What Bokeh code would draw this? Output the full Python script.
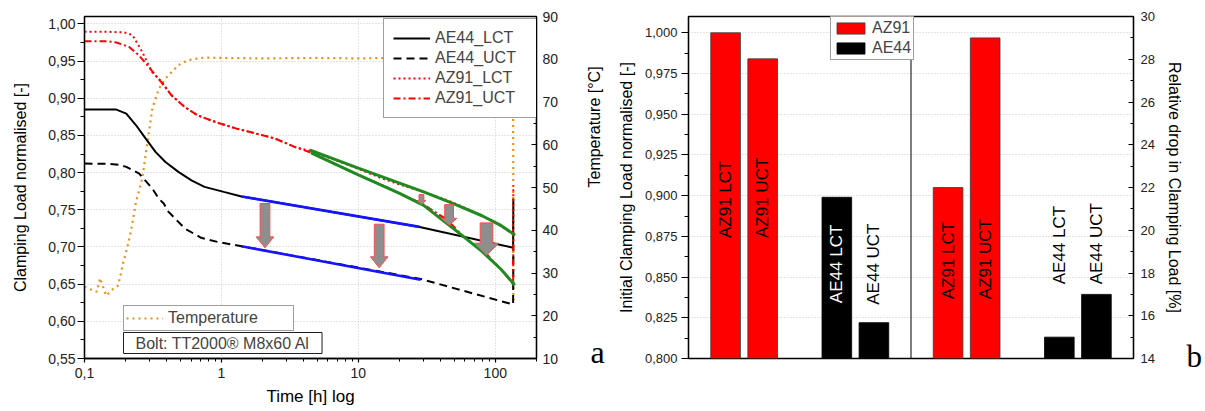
import numpy as np
from bokeh.plotting import figure
from bokeh.models import (Range1d, LinearAxis, Legend, LegendItem, Label, Span,
                          CustomJSTickFormatter, FixedTicker, ColumnDataSource)
from bokeh.layouts import row
from bokeh.embed import file_html
from bokeh.resources import INLINE
from bokeh.core.properties import value

FONT = "Liberation Sans"
SERIF = "Liberation Serif"

# ---------------- chart a : clamping load vs time ----------------
ae44_lct_t = [0.1, 0.15, 0.171, 0.202, 0.238, 0.28, 0.33, 0.39, 0.485, 0.604, 0.752, 1.04, 1.4, 28, 135, 135.5]
ae44_lct_v = [0.885, 0.885, 0.8848, 0.8794, 0.8637, 0.8458, 0.8279, 0.8144, 0.801, 0.7897, 0.7808, 0.7741, 0.768, 0.727, 0.699, 0.765]

ae44_uct_t = [0.1, 0.15, 0.18, 0.202, 0.251, 0.313, 0.349, 0.379, 0.411, 0.541, 0.711, 0.935, 1.4, 28.5, 135, 135.5]
ae44_uct_v = [0.8122, 0.8118, 0.8105, 0.8077, 0.7987, 0.7786, 0.765, 0.7584, 0.7472, 0.7248, 0.7123, 0.7069, 0.701, 0.657, 0.6226, 0.70]

az91_lct_t = [0.1, 0.15, 0.196, 0.224, 0.264, 0.311, 0.366, 0.432, 0.538, 0.67, 0.93, 1.29, 1.79, 2.47, 3.42,
              4.5, 7, 10, 15, 20, 30, 46, 70, 88, 110, 135, 135.5]
az91_lct_v = [0.9896, 0.9894, 0.9885, 0.985, 0.9624, 0.9355, 0.922, 0.904, 0.8884, 0.877, 0.8673, 0.8592, 0.8525, 0.8458, 0.8346,
              0.829, 0.816, 0.805, 0.792, 0.784, 0.774, 0.762, 0.747, 0.738, 0.728, 0.717, 0.783]

az91_uct_t = [0.1, 0.15, 0.171, 0.212, 0.25, 0.295, 0.366, 0.432, 0.538, 0.67, 0.93, 1.29, 1.79, 2.47, 3.42,
              4.5, 7, 10, 15, 20, 30, 45, 57, 70, 88, 110, 135, 135.5]
az91_uct_v = [0.9768, 0.9767, 0.975, 0.969, 0.9578, 0.942, 0.921, 0.904, 0.8884, 0.877, 0.8673, 0.8592, 0.8525, 0.8458, 0.8346,
              0.827, 0.81, 0.797, 0.783, 0.772, 0.757, 0.736, 0.716, 0.703, 0.689, 0.670, 0.650, 0.72]

temp_t = [0.1, 0.11, 0.123, 0.13, 0.144, 0.162, 0.175, 0.181, 0.191, 0.207, 0.219, 0.231, 0.238, 0.264, 0.313,
          0.349, 0.39, 0.485, 0.57, 0.752, 1.0, 2.0, 5.0, 10, 20, 50, 100, 134, 135.2, 135.4, 135.6]
temp_c = [26.8, 26.2, 25.6, 28.8, 24.7, 26.3, 27.0, 28.7, 32.2, 36.5, 40.0, 44.3, 46.7, 52.1, 68.5,
          73.1, 75.5, 78.6, 79.8, 80.4, 80.3, 80.2, 80.3, 80.2, 80.3, 80.1, 80.2, 80.2, 60.0, 40.0, 23.6]

# blue fit lines (AE44) and green fit lines (AZ91)
blue_lct_t = [1.4, 28]
blue_lct_v = [0.768, 0.727]
blue_uct_t = [1.4, 28.5]
blue_uct_v = [0.701, 0.656]
green_lct_t = [4.5, 10, 20, 30, 50, 80, 110, 137]
green_lct_v = [0.830, 0.806, 0.786, 0.774, 0.758, 0.742, 0.729, 0.717]
green_uct_t = [4.6, 10, 20, 30, 50, 80, 110, 137]
green_uct_v = [0.826, 0.797, 0.772, 0.756, 0.724, 0.694, 0.670, 0.650]

# drop arrows (time, start value, tip value)
arrow_t = [2.08, 14.2, 28.9, 46.0, 86.3]
arrow_top = [0.7584, 0.7306, 0.7705, 0.757, 0.7324]
arrow_tip = [0.6988, 0.672, 0.757, 0.7292, 0.6889]

# ---------------- chart b : bars ----------------
bar_labels = ["AZ91 LCT", "AZ91 UCT", "AE44 LCT", "AE44 UCT"]
bar_alloy = ["AZ91", "AZ91", "AE44", "AE44"]
initial_load = [1.000, 0.984, 0.899, 0.822]
relative_drop = [22.0, 29.0, 15.0, 17.0]

# ---------------- styles / layout ----------------
arrow_shaft_px = [10, 10, 5, 9, 13]
arrow_head_px = [18, 18, 9, 16, 25]
arrow_headlen_px = [11, 11, 4, 7, 12]
alloy_color = {"AZ91": "#ff0000", "AE44": "#000000"}
alloy_line = {"AZ91": "#3a3a3a", "AE44": "#000000"}
ORANGE = "#e8901a"
GRID = "#c8c8c8"

H = 411
W1 = 614
ML1, MR1, MT, MB = 84, 66, 16, 53
X0, X1 = 0.1, 200
Y0, Y1 = 0.55, 1.01


def style_axis(ax, size="14px"):
    ax.axis_line_color = "black"
    ax.axis_line_width = 1.3
    ax.major_tick_line_color = "black"
    ax.minor_tick_line_color = "black"
    ax.major_tick_line_width = 1.2
    ax.minor_tick_line_width = 1.0
    ax.major_label_text_font = FONT
    ax.major_label_text_font_size = size
    ax.major_label_text_color = "#222222"
    ax.axis_label_text_font = FONT
    ax.axis_label_text_font_size = "16px"
    ax.axis_label_text_font_style = "normal"
    ax.axis_label_text_color = "black"


def label_reads_up(ax):
    if "axis_label_orientation" in ax.properties():
        ax.axis_label_orientation = np.pi / 2


def letter_axis(ax, font_size):
    ax.axis_line_color = None
    ax.major_tick_line_color = None
    ax.minor_tick_line_color = None
    ax.major_label_text_font = SERIF
    ax.major_label_text_font_size = font_size
    ax.major_label_text_color = "black"
    ax.axis_label_text_font = FONT
    ax.axis_label_text_font_size = "16px"
    ax.axis_label_text_font_style = "normal"
    ax.axis_label_text_color = "black"


# ===================== figure a =====================
p1 = figure(width=W1, height=H, x_axis_type="log", x_range=Range1d(X0, X1), y_range=Range1d(Y0, Y1),
            output_backend="svg", toolbar_location=None,
            min_border_left=ML1, min_border_right=MR1, min_border_top=MT, min_border_bottom=MB,
            outline_line_color="black", outline_line_width=1.3, background_fill_color="white",
            border_fill_color="white")
p1.extra_y_ranges = {"temp": Range1d(10, 90)}

yl = p1.left[0]
style_axis(yl)
yl.ticker = FixedTicker(ticks=[round(0.55 + 0.05 * i, 2) for i in range(10)],
                        minor_ticks=[round(0.575 + 0.05 * i, 3) for i in range(9)])
yl.formatter = CustomJSTickFormatter(code="return tick.toFixed(2).replace('.', ',');")
yl.axis_label = "Clamping Load normalised [-]"
yl.major_tick_out = 7
yl.major_tick_in = 0
yl.minor_tick_out = 4
yl.minor_tick_in = 0
yl.major_label_standoff = 2
yl.axis_label_standoff = 16

xb = p1.below[0]
style_axis(xb)
xb.formatter = CustomJSTickFormatter(
    code="if (tick < 1) { return tick.toFixed(1).replace('.', ','); } return tick.toFixed(0);")
xb.axis_label = "Time [h] log"
xb.axis_label_text_font_size = "17px"
xb.major_tick_out = 4
xb.major_tick_in = 0
xb.minor_tick_out = 3
xb.minor_tick_in = 0
xb.major_label_standoff = 5
xb.axis_label_standoff = 6

# right axis: temperature ticks, then an outer axis that carries the axis title and the panel letter
yr = LinearAxis(y_range_name="temp",
                ticker=FixedTicker(ticks=list(range(10, 91, 10)), minor_ticks=list(range(15, 90, 10))))
style_axis(yr)
yr.major_tick_in = 5
yr.major_tick_out = 0
yr.minor_tick_in = 3
yr.minor_tick_out = 0
yr.major_label_standoff = 6
p1.add_layout(yr, "right")

ya = LinearAxis(y_range_name="temp", axis_label="Temperature [°C]",
                ticker=FixedTicker(ticks=[11.5], minor_ticks=[]),
                formatter=CustomJSTickFormatter(code="return 'a';"))
letter_axis(ya, "32px")
ya.major_label_standoff = 23
ya.axis_label_standoff = -13
label_reads_up(ya)
p1.add_layout(ya, "right")

for g in (p1.xgrid[0], p1.ygrid[0]):
    g.grid_line_color = GRID
    g.grid_line_dash = "1 2"
    g.grid_line_width = 1

# temperature (right axis)
r_temp = p1.line(temp_t, temp_c, y_range_name="temp", color=ORANGE, line_width=2.2, line_dash="2 4")

# clamping load curves
r_ae_l = p1.line(ae44_lct_t, ae44_lct_v, color="black", line_width=2)
r_ae_u = p1.line(ae44_uct_t, ae44_uct_v, color="black", line_width=2, line_dash="8 5")
r_az_l = p1.line(az91_lct_t, az91_lct_v, color="#ff0000", line_width=2, line_dash="2 3")
r_az_u = p1.line(az91_uct_t, az91_uct_v, color="#ff0000", line_width=2, line_dash="7 3 2 3")

# fit lines
p1.line(blue_lct_t, blue_lct_v, color="#1414ff", line_width=2.6)
p1.line(blue_uct_t, blue_uct_v, color="#1414ff", line_width=2.6)
p1.line(green_lct_t, green_lct_v, color="#1f8a1f", line_width=3, line_cap="round")
p1.line(green_uct_t, green_uct_v, color="#1f8a1f", line_width=3, line_cap="round")

# block arrows built in log space
frame_w = W1 - ML1 - MR1
frame_h = H - MT - MB
dec_per_px = (np.log10(X1) - np.log10(X0)) / frame_w
val_per_px = (Y1 - Y0) / frame_h
xs, ys = [], []
for t, top, tip, sw, hw, hl in zip(arrow_t, arrow_top, arrow_tip, arrow_shaft_px, arrow_head_px, arrow_headlen_px):
    lc = np.log10(t)
    s = sw / 2 * dec_per_px
    h = hw / 2 * dec_per_px
    yh = tip + hl * val_per_px
    lx = [lc - s, lc + s, lc + s, lc + h, lc, lc - h, lc - s]
    xs.append([10 ** v for v in lx])
    ys.append([top, top, yh, yh, tip, yh, yh])
p1.patches(xs, ys, fill_color="#8e8e8e", line_color="#ff4a4a", line_width=1)

leg1 = Legend(items=[LegendItem(label="AE44_LCT", renderers=[r_ae_l]),
                     LegendItem(label="AE44_UCT", renderers=[r_ae_u]),
                     LegendItem(label="AZ91_LCT", renderers=[r_az_l]),
                     LegendItem(label="AZ91_UCT", renderers=[r_az_u])],
              location=(299, 240))
leg2 = Legend(items=[LegendItem(label="Temperature", renderers=[r_temp])], location=(39, 27))
for lg in (leg1, leg2):
    lg.label_text_font = FONT
    lg.label_text_font_size = "16px"
    lg.glyph_width = 37
    lg.glyph_height = 20
    lg.label_height = 20
    lg.spacing = 0
    lg.margin = 0
    lg.label_standoff = 5
    lg.border_line_color = "#404040"
    lg.border_line_width = 1
    lg.background_fill_alpha = 1
leg1.padding = 9
leg1.label_width = 95
leg2.padding = 2
leg2.label_width = 123
p1.add_layout(leg1)
p1.add_layout(leg2)

p1.add_layout(Label(x=39, y=5, x_units="screen", y_units="screen", text="Bolt: TT2000® M8x60 Al",
                    text_font=FONT, text_font_size="16px", text_align="left", text_baseline="bottom",
                    border_line_color="#202020", border_line_width=1, background_fill_color="white",
                    padding=dict(left=12, right=12, top=2, bottom=2)))

# ===================== figure b =====================
W2 = 1205 - W1
ML2, MR2 = 70, 62
p2 = figure(width=W2, height=H, x_range=Range1d(0, 15), y_range=Range1d(0.8, 1.01),
            output_backend="svg", toolbar_location=None,
            min_border_left=ML2, min_border_right=MR2, min_border_top=MT, min_border_bottom=MB,
            outline_line_color="black", outline_line_width=1.3, background_fill_color="white",
            border_fill_color="white")
p2.extra_y_ranges = {"drop": Range1d(14, 30)}
p2.xaxis.visible = False
p2.xgrid.visible = False
p2.ygrid.grid_line_color = GRID
p2.ygrid.grid_line_dash = "1 2"

yl2 = p2.left[0]
style_axis(yl2, "13px")
yl2.ticker = FixedTicker(ticks=[round(0.8 + 0.025 * i, 3) for i in range(9)],
                         minor_ticks=[round(0.8125 + 0.025 * i, 4) for i in range(8)])
yl2.formatter = CustomJSTickFormatter(code="return tick.toFixed(3).replace('.', ',');")
yl2.axis_label = "Initial Clamping Load normalised [-]"
yl2.major_tick_out = 7
yl2.major_tick_in = 0
yl2.minor_tick_out = 4
yl2.minor_tick_in = 0
yl2.major_label_standoff = 4
yl2.axis_label_standoff = 7

yr2 = LinearAxis(y_range_name="drop", axis_label="Relative drop in Clamping Load [%]",
                 ticker=FixedTicker(ticks=list(range(14, 31, 2)), minor_ticks=list(range(15, 30, 2))))
style_axis(yr2, "13px")
yr2.major_tick_in = 5
yr2.major_tick_out = 0
yr2.minor_tick_in = 3
yr2.minor_tick_out = 0
yr2.major_label_standoff = 7
yr2.axis_label_standoff = 8
p2.add_layout(yr2, "right")

yb = LinearAxis(y_range_name="drop", ticker=FixedTicker(ticks=[14.1], minor_ticks=[]),
                formatter=CustomJSTickFormatter(code="return 'b';"))
letter_axis(yb, "31px")
yb.major_label_standoff = -5
p2.add_layout(yb, "right")

# bar slots: two groups of two per panel, second panel shifted by half the range
slot = [0, 1, 3, 4]
xa = [1.25 + 1.25 * s for s in slot]
xb2 = [x + 7.5 for x in xa]
fills = [alloy_color[a] for a in bar_alloy]
lines = [alloy_line[a] for a in bar_alloy]

src_a = ColumnDataSource(dict(x=xa, top=initial_load, fill=fills, line=lines, lab=bar_labels))
src_b = ColumnDataSource(dict(x=xb2, top=relative_drop, fill=fills, line=lines, lab=bar_labels))
ra = p2.vbar(x="x", top="top", bottom=0.8, width=1.0, fill_color="fill", line_color="line",
             line_width=0.8, source=src_a)
p2.vbar(x="x", top="top", bottom=14, width=1.0, fill_color="fill", line_color="line",
        line_width=0.8, source=src_b, y_range_name="drop")

p2.add_layout(Span(location=7.5, dimension="height", line_color="black", line_width=1))

# rotated bar labels
lab_a_y = [0.874, 0.874, 0.834, 0.833]
lab_b_y = [16.77, 16.77, 17.47, 17.47]
lab_a_col = ["black", "black", "white", "black"]
p2.text(x=xa, y=lab_a_y, text=bar_labels, angle=np.pi / 2, text_align="left", text_baseline="middle",
        text_font=value(FONT), text_font_size="17px", text_color=lab_a_col)
p2.text(x=xb2, y=lab_b_y, text=bar_labels, angle=np.pi / 2, text_align="left", text_baseline="middle",
        text_font=value(FONT), text_font_size="17px", text_color="black", y_range_name="drop")

leg3 = Legend(items=[LegendItem(label="AZ91", renderers=[ra], index=0),
                     LegendItem(label="AE44", renderers=[ra], index=2)],
              location=(142, 298))
leg3.label_text_font = FONT
leg3.label_text_font_size = "16px"
leg3.glyph_width = 35
leg3.glyph_height = 14
leg3.label_height = 18
leg3.spacing = 2
leg3.padding = 2
leg3.margin = 0
leg3.label_standoff = 4
leg3.border_line_color = "#404040"
leg3.background_fill_alpha = 1
p2.add_layout(leg3)

layout = row(p1, p2)
open("out.html", "w").write(file_html(layout, INLINE))
